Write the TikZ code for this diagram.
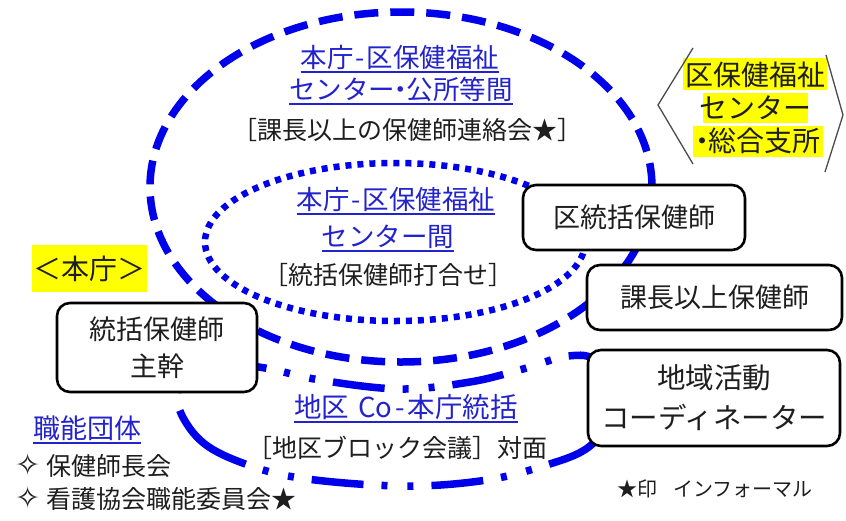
\documentclass[tikz,border=0pt]{standalone}
\usepackage{fontspec}
\newfontfamily\jp{Noto Sans CJK JP}
\newfontfamily\djv{DejaVu Sans}
\definecolor{lineblue}{RGB}{0,0,235}
\definecolor{textblue}{RGB}{35,35,205}
\definecolor{hl}{RGB}{255,255,0}
\definecolor{ink}{RGB}{30,30,30}
\newcommand\ulin[1]{\setbox0=\hbox{#1}\rlap{\rule[-6pt]{\wd0}{1.6pt}}\box0}
\newcommand\fsz[1]{\fontsize{#1pt}{#1pt}\selectfont}
\newcommand\ndot{\makebox[0.45em]{・}}
\newcommand\hyp{\kern2pt-\kern2pt}
\newcommand\dia{{\djv\fontsize{30pt}{30pt}\selectfont ✧}}
\tikzset{
  box/.style={draw=black, line width=2.6pt, rounded corners=13pt, fill=white, inner sep=0pt, text=ink,
              font=\jp\fontsize{27pt}{37pt}\selectfont, align=center},
  bigdash/.style={draw=lineblue, line width=7.5pt, dash pattern=on 24pt off 12pt},
  dotline/.style={draw=lineblue, line width=6.5pt, dash pattern=on 6pt off 6pt},
  dashdot/.style={draw=lineblue, line width=7.5pt, dash pattern=on 52pt off 18pt on 6pt off 20pt on 6pt off 18pt},
  bluelbl/.style={font=\jp\fsz{26.5}, text=textblue, inner sep=0pt, anchor=base},
  blacklbl/.style={font=\jp\fsz{25}, text=ink, inner sep=0pt, anchor=base},
  hllbl/.style={font=\jp\fsz{28}, text=ink, inner sep=0pt, anchor=base},
  bracket/.style={draw=ink!80, line width=1.3pt},
}
\begin{document}
\begin{tikzpicture}[x=1pt,y=-1pt]
\useasboundingbox (0,0) rectangle (846,520);
\fill[white] (0,0) rectangle (846,520);

% rings
\draw[bigdash] (401,187) ellipse [x radius=251pt, y radius=175pt];
\draw[dotline] (395,242) ellipse [x radius=190pt, y radius=79pt];
\draw[dashdot] plot[smooth cycle, tension=0.6] coordinates {
  (178,405) (200,440) (240,462) (300,478) (400,486) (480,481) (540,467) (590,446)
  (615,405) (597,362) (568,356) (523,369) (470,382) (400,389) (320,380) (265,368)
  (220,364) (185,378)};

% top ring labels
\node[bluelbl] (t1) at (400,67) {\ulin{本庁\hyp 区保健福祉}};
\node[bluelbl] (t2) at (401,99) {\ulin{センター\ndot 公所等間}};
\node[blacklbl] (t3) at (407,139) {［課長以上の保健師連絡会★］};

% dotted ring labels
\node[bluelbl] (d1) at (396,209) {\ulin{本庁\hyp 区保健福祉}};
\node[bluelbl] (d2) at (388,246) {\ulin{センター間}};
\node[blacklbl] (d3) at (388,284) {［統括保健師打合せ］};

% dash-dot ring labels
\node[bluelbl, font=\jp\fsz{27.5}] (c1) at (406,417) {\ulin{地区\hspace{9pt}Co\kern3pt-\kern3pt 本庁統括}};
\node[blacklbl] (c2) at (397,457) {［地区ブロック会議］対面};

% right highlighted label
\fill[hl] (683,58) rectangle (827,90);
\fill[hl] (703,93) rectangle (808,123);
\fill[hl] (693,126) rectangle (823,157);
\node[hllbl] (r1) at (755,85) {区保健福祉};
\node[hllbl] (r2) at (755.5,118) {センター};
\node[hllbl] (r3) at (758,151) {\ndot 総合支所};
\coordinate (lbA) at (693,48);
\coordinate (lbB) at (658,105);
\coordinate (lbC) at (693,164);
\coordinate (rbA) at (826,55);
\coordinate (rbB) at (843,115);
\coordinate (rbC) at (825,172);
\draw[bracket] (lbA) -- (lbB) -- (lbC);
\draw[bracket] (rbA) -- (rbB) -- (rbC);

% honcho label
\node[fill=hl, minimum width=115pt, minimum height=47pt, inner sep=0pt, font=\jp\fsz{28}, text=ink] (honcho) at (89.5,268.5) {＜本庁＞};

% boxes
\node[box, minimum width=222pt, minimum height=65pt] (kutokatsu) at (634,217.5) {区統括保健師};
\node[box, minimum width=255pt, minimum height=65pt] (kacho) at (714.5,297.5) {課長以上保健師};
\node[box, minimum width=252pt, minimum height=96pt, font=\jp\fontsize{28.5pt}{40pt}\selectfont] (coord) at (714,398) {地域活動\\コーディネーター};
\node[box, minimum width=200pt, minimum height=89pt] (shukan) at (157,347.5) {統括保健師\\主幹};

% bottom left list
\node[font=\jp\fsz{27}, text=textblue, inner sep=0pt, anchor=base west] (shokuno) at (33,438) {\ulin{職能団体}};
\node[font=\jp\fsz{25}, text=ink, inner sep=0pt, anchor=base west] (li1) at (15,475) {\dia\hspace{6pt}保健師長会};
\node[font=\jp\fsz{25}, text=ink, inner sep=0pt, anchor=base west] (li2) at (15,508) {\dia\hspace{6pt}看護協会職能委員会★};

% note
\node[font=\jp\fsz{20}, text=ink, inner sep=0pt, anchor=base west] (note) at (617,496) {★印\hspace{16pt}インフォーマル};
\end{tikzpicture}
\end{document}
